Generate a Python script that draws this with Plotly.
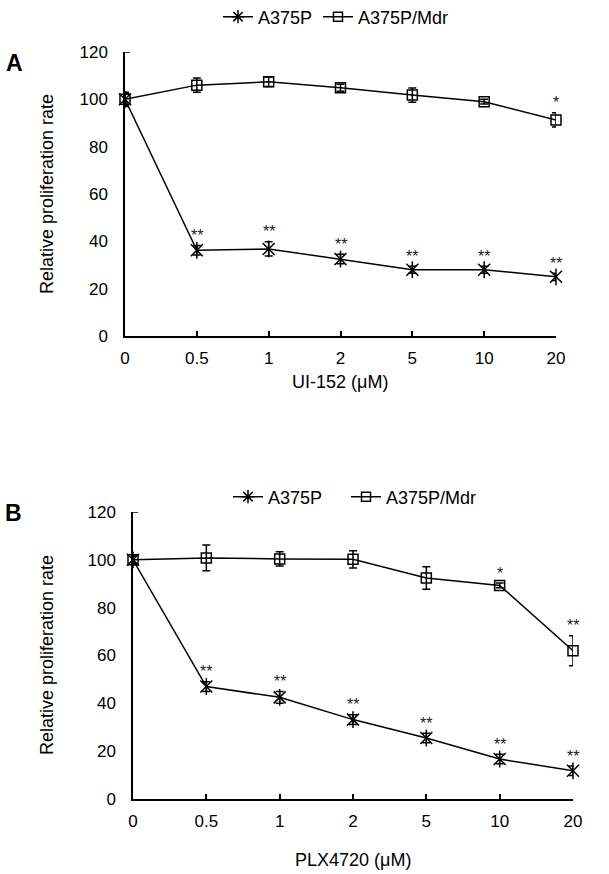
import plotly.graph_objects as go

# ---------------- data ----------------
conc = ["0", "0.5", "1", "2", "5", "10", "20"]

a_a375p = [100, 36.2, 36.8, 32.5, 28.0, 28.0, 25.0]
a_a375p_err = [2.5, 2.0, 3.0, 2.0, 1.5, 1.5, 1.5]
a_mdr = [100, 106.0, 107.4, 104.9, 101.8, 99.0, 91.3]
a_mdr_err = [3.0, 3.0, 2.0, 1.5, 3.0, 1.0, 3.0]
a_a375p_sig = ["", "**", "**", "**", "**", "**", "**"]
a_mdr_sig = ["", "", "", "", "", "", "*"]

b_a375p = [100, 47.0, 42.5, 33.2, 25.5, 16.7, 11.8]
b_a375p_err = [1.5, 2.0, 2.5, 2.0, 2.0, 2.0, 2.0]
b_mdr = [100, 100.8, 100.4, 100.2, 92.4, 89.3, 62.0]
b_mdr_err = [2.0, 5.4, 3.0, 3.6, 4.7, 1.0, 6.3]
b_a375p_sig = ["", "**", "**", "**", "**", "**", "**"]
b_mdr_sig = ["", "", "", "", "", "*", "**"]

series_names = ["A375P", "A375P/Mdr"]
y_title = "Relative proliferation rate"
x_title_a = "UI-152 (μM)"
x_title_b = "PLX4720 (μM)"

# ---------------- layout helpers ----------------
W, H = 609, 874
FONT = "Liberation Sans, Arial, sans-serif"

def px_x(p):
    return p / W

def px_y(p):
    return 1 - p / H

fig = go.Figure()

def add_panel(xref, yref, legends, y1, e1, y2, e2, s1, s2):
    # legend-only entries
    fig.add_trace(go.Scatter(x=[None], y=[None], mode="lines+markers", name=series_names[0],
                             line=dict(color="black", width=1.5),
                             marker=dict(symbol="asterisk-open", size=11, color="black",
                                         line=dict(color="black", width=1.5)),
                             xaxis=xref, yaxis=yref, legend=legends[0]))
    fig.add_trace(go.Scatter(x=[None], y=[None], mode="lines+markers", name=series_names[1],
                             line=dict(color="black", width=1.5),
                             marker=dict(symbol="square-open", size=9, color="black",
                                         line=dict(color="black", width=1.5)),
                             xaxis=xref, yaxis=yref, legend=legends[1]))
    # A375P line with error bars
    fig.add_trace(go.Scatter(x=conc, y=y1, mode="lines+markers", showlegend=False, cliponaxis=False,
                             line=dict(color="black", width=1.5),
                             marker=dict(symbol="x-thin-open", size=12, color="black",
                                         line=dict(color="black", width=1.5)),
                             error_y=dict(type="data", array=e1, color="black", thickness=1.5, width=4),
                             xaxis=xref, yaxis=yref))
    fig.add_trace(go.Scatter(x=conc, y=y1, mode="markers", showlegend=False, cliponaxis=False,
                             marker=dict(symbol="line-ns-open", size=12, color="black",
                                         line=dict(color="black", width=1.5)),
                             xaxis=xref, yaxis=yref))
    # A375P/Mdr
    fig.add_trace(go.Scatter(x=conc, y=y2, mode="lines+markers", showlegend=False, cliponaxis=False,
                             line=dict(color="black", width=1.5),
                             marker=dict(symbol="square-open", size=10, color="black",
                                         line=dict(color="black", width=1.5)),
                             error_y=dict(type="data", array=e2, color="black", thickness=1.5, width=4),
                             xaxis=xref, yaxis=yref))
    for vals, errs, sig in ((y1, e1, s1), (y2, e2, s2)):
        for i, (v, e, s) in enumerate(zip(vals, errs, sig)):
            if s:
                fig.add_annotation(x=i, y=v + e, xref=xref, yref=yref, text=s, showarrow=False,
                                   yanchor="middle", yshift=10,
                                   font=dict(family=FONT, size=16, color="#222"))
    # small top cap on y axis
    fig.add_shape(type="line", xref=f"{xref} domain", yref=yref, x0=0, x1=0.012, y0=120, y1=120,
                  line=dict(color="black", width=1.5))

add_panel("x", "y", ("legend", "legend2"), a_a375p, a_a375p_err, a_mdr, a_mdr_err, a_a375p_sig, a_mdr_sig)
add_panel("x2", "y2", ("legend3", "legend4"), b_a375p, b_a375p_err, b_mdr, b_mdr_err, b_a375p_sig, b_mdr_sig)

xcommon = dict(type="category", range=[0, 6], showline=True, linecolor="black", linewidth=1.5,
               ticks="inside", ticklen=5, tickwidth=1.5, tickcolor="black", showgrid=False,
               zeroline=False, ticklabelstandoff=6, automargin=False,
               tickfont=dict(family=FONT, size=17, color="black"))
ycommon = dict(range=[0, 120], dtick=20, showline=True, linecolor="black", linewidth=1.5,
               ticks="", showgrid=False, zeroline=False, ticklabelstandoff=12, automargin=False,
               tickfont=dict(family=FONT, size=17, color="black"))

def leg(xpx, ypx):
    return dict(orientation="h", x=px_x(xpx), y=px_y(ypx), xanchor="left", yanchor="middle",
                bgcolor="rgba(0,0,0,0)", borderwidth=0,
                font=dict(family=FONT, size=18, color="black"), itemclick=False)

fig.update_layout(
    width=W, height=H, autosize=False,
    margin=dict(l=0, r=0, t=0, b=0, autoexpand=False),
    paper_bgcolor="white", plot_bgcolor="white",
    font=dict(family=FONT, color="black"),
    xaxis=dict(xcommon, domain=[px_x(125), px_x(556)], anchor="y"),
    yaxis=dict(ycommon, domain=[px_y(336), px_y(52)], anchor="x"),
    xaxis2=dict(xcommon, domain=[px_x(133), px_x(573)], anchor="y2"),
    yaxis2=dict(ycommon, domain=[px_y(799), px_y(512)], anchor="x2"),
    legend=leg(218, 17),
    legend2=leg(318, 17),
    legend3=leg(228, 497),
    legend4=leg(346, 497),
)

# panel letters and axis titles
for txt, x, y in (("A", 14, 63), ("B", 13, 513)):
    fig.add_annotation(text=f"<b>{txt}</b>", x=px_x(x), y=px_y(y), xref="paper", yref="paper",
                       showarrow=False, xanchor="center", yanchor="middle",
                       font=dict(family=FONT, size=23, color="black"))
for y in (194, 655):
    fig.add_annotation(text=y_title, x=px_x(47), y=px_y(y), xref="paper", yref="paper",
                       showarrow=False, textangle=-90, xanchor="center", yanchor="middle",
                       font=dict(family=FONT, size=18, color="black"))
fig.add_annotation(text=x_title_a, x=px_x(340), y=px_y(382), xref="paper", yref="paper",
                   showarrow=False, xanchor="center", yanchor="middle",
                   font=dict(family=FONT, size=18, color="black"))
fig.add_annotation(text=x_title_b, x=px_x(353), y=px_y(860), xref="paper", yref="paper",
                   showarrow=False, xanchor="center", yanchor="middle",
                   font=dict(family=FONT, size=18, color="black"))

fig.write_html("out.html", config={"displayModeBar": False},
               post_script="document.body.style.margin='0';")
